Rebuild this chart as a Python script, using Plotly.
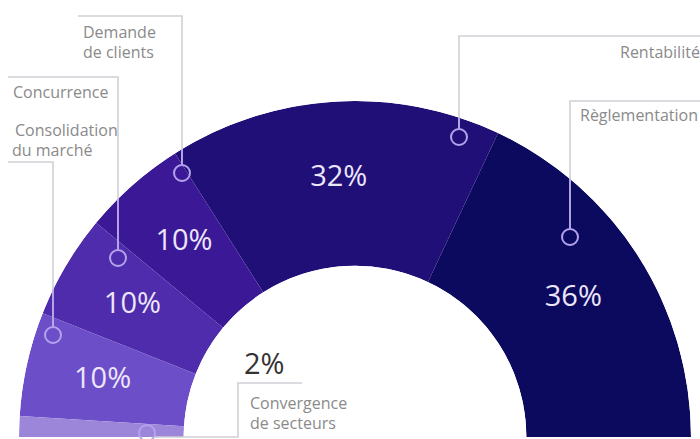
import math
import plotly.graph_objects as go

# ---- data ----
categories = ["Règlementation", "Rentabilité", "Demande de clients",
              "Concurrence", "Consolidation du marché", "Convergence de secteurs"]
values = [36, 32, 10, 10, 10, 2]
pct_labels = ["36%", "32%", "10%", "10%", "10%", "2%"]
colors = ["#0c0a5e", "#210f78", "#3b1896", "#4e2cab", "#6c4ec8", "#9b86d9"]

W, H = 700, 439
CX, CY, R = 355, 437, 336       # pixel geometry of the half donut
HOLE = 0.51


def px(x):
    return x / W


def py(y):
    return 1 - y / H


total = sum(values)
widths = [v / total * 180 for v in values]
centers = []
acc = 0
for w in widths:
    centers.append(acc + w / 2)
    acc += w

fig = go.Figure()
fig.add_trace(go.Barpolar(
    r=[1] * len(values), theta=centers, width=widths,
    marker=dict(color=colors, line=dict(width=0)),
    hoverinfo="skip", showlegend=False,
))

# percentage labels inside slices (the tiny 2% is labelled outside)
fig.add_trace(go.Scatterpolar(
    r=[0.53] * 5, theta=centers[:5], mode="text", text=pct_labels[:5],
    textfont=dict(family="Open Sans", size=29, color="#ece6fa"),
    hoverinfo="skip", showlegend=False,
))

fig.update_layout(
    width=W, height=H, margin=dict(l=0, r=0, t=0, b=0),
    paper_bgcolor="white", plot_bgcolor="white",
    polar=dict(
        domain=dict(x=[px(CX - R), px(CX + R)], y=[py(CY), py(CY - R)]),
        sector=[0, 180], hole=HOLE, bgcolor="rgba(0,0,0,0)",
        radialaxis=dict(visible=False, range=[0, 1]),
        angularaxis=dict(visible=False, rotation=0, direction="counterclockwise"),
    ),
    showlegend=False,
)

GRAY = "#cfcfd6"
LAV = "#b4a2ec"


def outer_y(x):
    return CY - math.sqrt(max(R * R - (x - CX) ** 2, 0))


shapes = []


def callout(points, circle):
    path = "M " + " L ".join(f"{px(x)},{py(y)}" for x, y in points)
    shapes.append(dict(type="path", path=path, xref="paper", yref="paper",
                       line=dict(color=GRAY, width=1.6)))
    cxp, cyp = circle
    x_last = points[-1][0]
    yo = outer_y(x_last)
    if yo < cyp - 8:
        shapes.append(dict(type="line", xref="paper", yref="paper",
                           x0=px(x_last), x1=px(x_last), y0=py(yo), y1=py(cyp - 8),
                           line=dict(color=LAV, width=1.6)))
    shapes.append(dict(type="circle", xref="paper", yref="paper",
                       x0=px(cxp - 8), x1=px(cxp + 8), y0=py(cyp + 8), y1=py(cyp - 8),
                       line=dict(color=LAV, width=2), fillcolor="rgba(0,0,0,0)"))


callout([(78, 16), (182, 16), (182, 165)], (182, 173))          # Demande
callout([(8, 77), (118, 77), (118, 250)], (118, 258))           # Concurrence
callout([(8, 162), (53, 162), (53, 327)], (53, 335))            # Consolidation
callout([(702, 36), (459, 36), (459, 129)], (459, 137))         # Rentabilité
callout([(702, 101), (570, 101), (570, 229)], (570, 237))       # Règlementation
# Convergence
shapes.append(dict(type="path", xref="paper", yref="paper",
                   path=f"M {px(155)},{py(437)} L {px(238)},{py(437)} L {px(238)},{py(383)} L {px(302)},{py(383)}",
                   line=dict(color=GRAY, width=1.6)))
shapes.append(dict(type="circle", xref="paper", yref="paper",
                   x0=px(139), x1=px(155), y0=py(441), y1=py(425),
                   line=dict(color=LAV, width=2), fillcolor="rgba(0,0,0,0)"))

fig.update_layout(shapes=shapes)

TXT = dict(family="Open Sans", size=16, color="#8a8a8a")
notes = [
    ("Demande", 81, 32), ("de clients", 81, 52),
    ("Concurrence", 11, 92),
    ("Consolidation", 13, 130), ("du marché", 10, 150),
    ("Rentabilité", 618, 52),
    ("Règlementation", 578, 115),
    ("Convergence", 248, 403), ("de secteurs", 248, 423),
]
for t, x, y in notes:
    fig.add_annotation(text=t, x=px(x), y=py(y), xref="paper", yref="paper",
                       xanchor="left", yanchor="middle", showarrow=False, font=TXT)

fig.add_annotation(text=pct_labels[5], x=px(242), y=py(362), xref="paper", yref="paper",
                   xanchor="left", yanchor="middle", showarrow=False,
                   font=dict(family="Open Sans", size=29, color="#333333"))

fig.write_html("out.html", config={"displayModeBar": False, "staticPlot": True},
               post_script="document.body.style.margin='0px';document.body.style.overflow='hidden';")
